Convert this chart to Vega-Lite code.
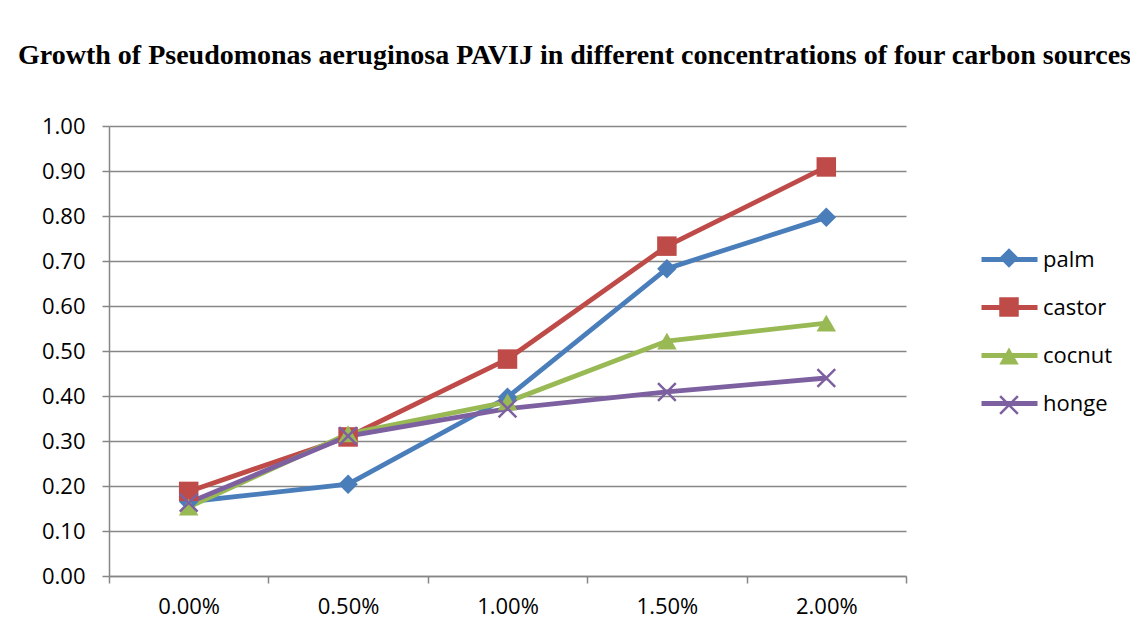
{
  "$schema": "https://vega.github.io/schema/vega-lite/v6.json",
  "width": 797,
  "height": 450,
  "autosize": {"type": "none"},
  "padding": {"left": 109, "top": 126, "right": 224, "bottom": 64},
  "background": "white",
  "title": {
    "text": "Growth of Pseudomonas aeruginosa PAVIJ in different concentrations of four carbon sources",
    "font": "Liberation Serif",
    "fontWeight": "bold",
    "fontSize": 28,
    "color": "black",
    "anchor": "middle",
    "dx": 67,
    "baseline": "alphabetic",
    "offset": 23
  },
  "data": {
    "values": [
      {"conc": "0.00%", "source": "palm", "value": 0.165},
      {"conc": "0.50%", "source": "palm", "value": 0.204},
      {"conc": "1.00%", "source": "palm", "value": 0.397},
      {"conc": "1.50%", "source": "palm", "value": 0.683},
      {"conc": "2.00%", "source": "palm", "value": 0.797},
      {"conc": "0.00%", "source": "castor", "value": 0.188},
      {"conc": "0.50%", "source": "castor", "value": 0.309},
      {"conc": "1.00%", "source": "castor", "value": 0.482},
      {"conc": "1.50%", "source": "castor", "value": 0.733},
      {"conc": "2.00%", "source": "castor", "value": 0.909},
      {"conc": "0.00%", "source": "cocnut", "value": 0.153},
      {"conc": "0.50%", "source": "cocnut", "value": 0.316},
      {"conc": "1.00%", "source": "cocnut", "value": 0.387},
      {"conc": "1.50%", "source": "cocnut", "value": 0.522},
      {"conc": "2.00%", "source": "cocnut", "value": 0.562},
      {"conc": "0.00%", "source": "honge", "value": 0.163},
      {"conc": "0.50%", "source": "honge", "value": 0.311},
      {"conc": "1.00%", "source": "honge", "value": 0.372},
      {"conc": "1.50%", "source": "honge", "value": 0.409},
      {"conc": "2.00%", "source": "honge", "value": 0.440}
    ]
  },
  "encoding": {
    "x": {
      "field": "conc",
      "type": "ordinal",
      "sort": ["0.00%", "0.50%", "1.00%", "1.50%", "2.00%"],
      "scale": {"type": "band", "paddingInner": 0, "paddingOuter": 0},
      "bandPosition": 0.5,
      "axis": {
        "title": null,
        "labelAngle": 0,
        "tickBand": "extent",
        "grid": false,
        "domainColor": "#868686",
        "domainWidth": 1.5,
        "tickColor": "#868686",
        "tickWidth": 1.5,
        "tickSize": 7,
        "labelPadding": 13,
        "labelFont": "Open Sans",
        "labelFontSize": 22,
        "labelColor": "black"
      }
    },
    "y": {
      "field": "value",
      "type": "quantitative",
      "scale": {"domain": [0, 1], "nice": false},
      "axis": {
        "title": null,
        "values": [0, 0.1, 0.2, 0.3, 0.4, 0.5, 0.6, 0.7, 0.8, 0.9, 1.0],
        "format": ".2f",
        "grid": true,
        "gridColor": "#868686",
        "gridWidth": 1.5,
        "domainColor": "#868686",
        "domainWidth": 1.5,
        "tickColor": "#868686",
        "tickWidth": 1.5,
        "tickSize": 7,
        "labelPadding": 17,
        "labelFont": "Open Sans",
        "labelFontSize": 22,
        "labelColor": "black"
      }
    },
    "color": {
      "field": "source",
      "type": "nominal",
      "sort": ["palm", "castor", "cocnut", "honge"],
      "scale": {
        "domain": ["palm", "castor", "cocnut", "honge"],
        "range": ["#4A7EBB", "#BE4B48", "#98B954", "#7D60A0"]
      }
    }
  },
  "layer": [
    {
      "mark": {"type": "line", "strokeWidth": 4.8},
      "encoding": {
        "color": {
          "field": "source",
          "type": "nominal",
          "sort": ["palm", "castor", "cocnut", "honge"],
          "legend": {
            "title": null,
            "orient": "none",
            "legendX": 884,
            "legendY": 117,
            "symbolType": "M-2,0H2",
            "symbolSize": 784,
            "symbolStrokeWidth": 4.8,
            "labelOffset": 17,
            "rowPadding": 20,
            "labelFont": "Open Sans",
            "labelFontSize": 22,
            "labelColor": "black"
          }
        }
      }
    },
    {
      "mark": {"type": "point", "filled": true, "opacity": 1, "size": 380},
      "encoding": {
        "shape": {
          "field": "source",
          "type": "nominal",
          "sort": ["palm", "castor", "cocnut", "honge"],
          "scale": {
            "domain": ["palm", "castor", "cocnut", "honge"],
            "range": ["diamond", "square", "triangle-up", "M-1,-0.82L-0.82,-1L0,-0.18L0.82,-1L1,-0.82L0.18,0L1,0.82L0.82,1L0,0.18L-0.82,1L-1,0.82L-0.18,0Z"]
          },
          "legend": {
            "title": null,
            "orient": "none",
            "legendX": 889,
            "legendY": 121,
            "symbolSize": 380,
            "rowPadding": 27,
            "labelExpr": "''",
            "labelFont": "Open Sans",
            "labelFontSize": 22
          }
        },
        "color": {
          "field": "source",
          "type": "nominal",
          "sort": ["palm", "castor", "cocnut", "honge"],
          "legend": {
            "title": null,
            "orient": "none",
            "legendX": 889,
            "legendY": 121,
            "symbolSize": 380,
            "rowPadding": 27,
            "labelExpr": "''",
            "labelFont": "Open Sans",
            "labelFontSize": 22
          }
        }
      }
    }
  ],
  "resolve": {"legend": {"color": "independent", "shape": "independent"}},
  "config": {"view": {"stroke": null}}
}
